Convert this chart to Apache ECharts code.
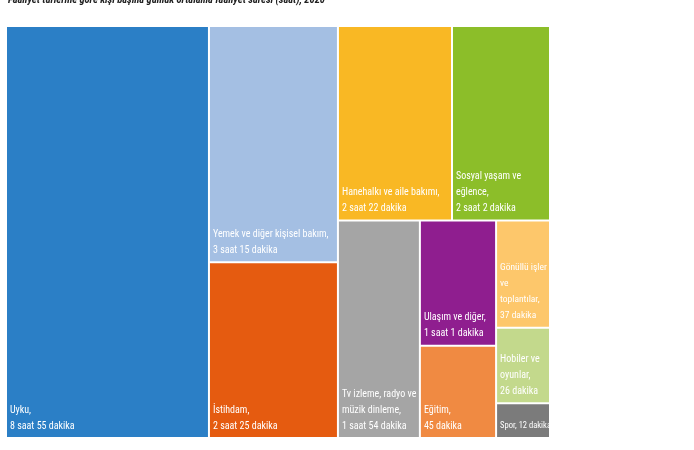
<!DOCTYPE html>
<html>
<head>
<meta charset="utf-8">
<script src="https://cdn.jsdelivr.net/npm/echarts@6/dist/echarts.min.js"></script>
<style>
  html, body { margin: 0; padding: 0; background: #fff; }
  #chart { width: 694px; height: 450px; }
</style>
</head>
<body>
<div id="chart"></div>
<script>
// faaliyet türleri, dakika cinsinden
var names = ['Uyku', 'Yemek ve diğer kişisel bakım', 'İstihdam', 'Hanehalkı ve aile bakımı',
  'Sosyal yaşam ve eğlence', 'Tv izleme, radyo ve müzik dinleme', 'Ulaşım ve diğer',
  'Eğitim', 'Gönüllü işler ve toplantılar', 'Hobiler ve oyunlar', 'Spor']
var minutes = [535, 195, 145, 142, 122, 114, 61, 45, 37, 26, 12]
var labels = ['Uyku,\n8 saat 55 dakika', 'Yemek ve diğer kişisel bakım,\n3 saat 15 dakika',
  'İstihdam,\n2 saat 25 dakika', 'Hanehalkı ve aile bakımı,\n2 saat 22 dakika',
  'Sosyal yaşam ve\neğlence,\n2 saat 2 dakika', 'Tv izleme, radyo ve\nmüzik dinleme,\n1 saat 54 dakika',
  'Ulaşım ve diğer,\n1 saat 1 dakika', 'Eğitim,\n45 dakika',
  'Gönüllü işler\nve\ntoplantılar,\n37 dakika', 'Hobiler ve\noyunlar,\n26 dakika', 'Spor, 12 dakika']
var colors = ['#2b7fc6', '#a4bfe3', '#e55b10', '#f9b824', '#8cbe29', '#a5a5a5',
  '#8f1e8f', '#f08a42', '#fdc76b', '#c3d98c', '#7b7b7b']
// kutuların gruplanması (indeksler), düzeni treemap kendisi hesaplıyor
var grouping = [[0, [1, 2]], 3, 4, [[5, [6, 7]], [8, 9, 10]]]

// dar kutular için biraz daha küçük yazı
var smallFont = { 8: 9.5, 10: 8.5 }

function build(g) {
  if (typeof g === 'number') {
    var lbl = { formatter: labels[g] }
    if (smallFont[g]) lbl.fontSize = smallFont[g]
    return {
      name: names[g],
      value: minutes[g],
      label: lbl,
      itemStyle: { color: colors[g] }
    }
  }
  return { name: '', children: g.map(build) }
}

var font = 'Roboto Condensed, Liberation Sans, sans-serif'
var chart = echarts.init(document.getElementById('chart'))

chart.setOption({
  animation: false,
  title: {
    text: 'Faaliyet türlerine göre kişi başına günlük ortalama faaliyet süresi (saat), 2020',
    left: 3,
    top: -10,
    textStyle: { fontSize: 10.5, fontWeight: 'bold', fontStyle: 'italic', color: '#222', fontFamily: font }
  },
  series: [{
    type: 'treemap',
    left: 7,
    top: 27,
    width: 542,
    height: 410,
    roam: false,
    nodeClick: false,
    sort: false,
    squareRatio: 2.1,
    breadcrumb: { show: false },
    itemStyle: { borderColor: '#fff', borderWidth: 0, gapWidth: 2 },
    label: {
      show: true,
      position: 'insideBottomLeft',
      distance: 2,
      padding: [0, 0, 1, 1],
      color: '#fff',
      fontSize: 10,
      lineHeight: 16,
      fontFamily: font,
      overflow: 'none'
    },
    upperLabel: { show: false },
    data: grouping.map(build)
  }]
})
</script>
</body>
</html>
